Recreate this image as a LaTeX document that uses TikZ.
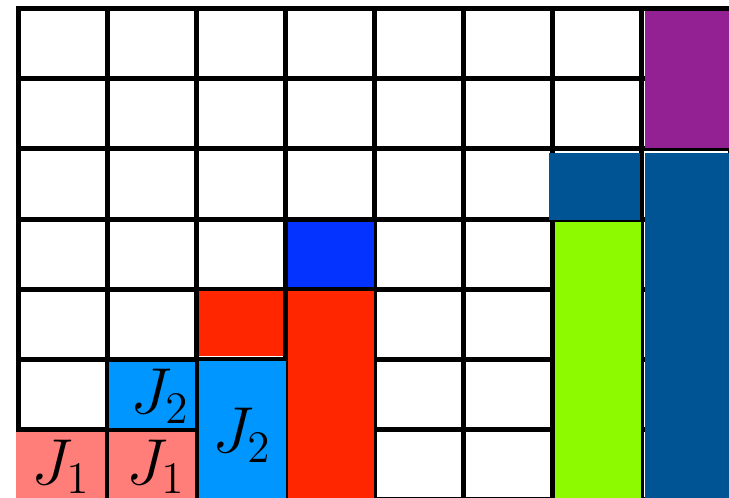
\documentclass[tikz,border=0pt]{standalone}
\begin{document}
\begin{tikzpicture}[x=1pt,y=-1pt,
  gridline/.style={line width=5pt,black},
  lab/.style={font=\huge,scale=3.134,inner sep=0pt,anchor=base}]
\definecolor{salmon}{HTML}{FF7E79}
\definecolor{aqua}{HTML}{0096FF}
\definecolor{marasch}{HTML}{FF2600}
\definecolor{blueberry}{HTML}{0433FF}
\definecolor{ocean}{HTML}{005493}
\definecolor{limec}{HTML}{8EFA00}
\definecolor{plum}{HTML}{942193}
\useasboundingbox (0,0) rectangle (729,498);
\clip (0,0) rectangle (729,498);
% grid
\foreach \i in {0,...,8} {
  \draw[gridline] ({18.5+89.04*\i},6) -- ({18.5+89.04*\i},505);
}
\foreach \k in {0,...,7} {
  \draw[gridline] (16,{8.5+70.17*\k}) -- (735,{8.5+70.17*\k});
}
% blocks
\fill[salmon] (16,432.3) rectangle (105.3,500);
\fill[salmon] (109.3,432.3) rectangle (195,500);
\fill[aqua] (109.3,361.7) rectangle (195,427.7);
\fill[aqua] (199.3,360.7) rectangle (286,500);
\fill[marasch] (199.3,290.7) rectangle (283.3,356);
\fill[marasch] (287.7,290.7) rectangle (374.3,500);
\fill[blueberry] (287.7,221.7) rectangle (374.3,287.3);
\fill[ocean] (549,153) rectangle (640,220);
\fill[limec] (555,221.7) rectangle (640.7,500);
\fill[plum] (645,11) rectangle (730,147.7);
\fill[ocean] (645,153) rectangle (730,500);
% labels
\node[lab] (j1a) at (60.5,484) {$J_1$};
\node[lab] (j1b) at (155.5,484) {$J_1$};
\node[lab] (j2a) at (159.7,413.3) {$J_2$};
\node[lab] (j2b) at (241.7,452.3) {$J_2$};
\end{tikzpicture}
\end{document}
